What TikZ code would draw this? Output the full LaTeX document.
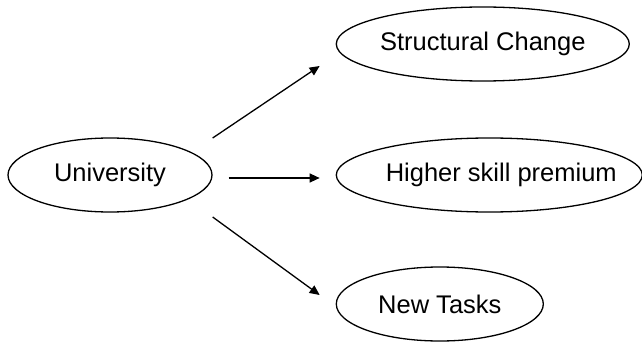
\documentclass[tikz,border=0pt]{standalone}
\usepackage{fontspec}
\setmainfont{Liberation Sans}
\usetikzlibrary{shapes.geometric, positioning, arrows.meta, calc}

\begin{document}
\begin{tikzpicture}[
        % Define styles for the diagram elements
        oval/.style={ellipse, draw, line width=1.3pt, inner sep=0pt, minimum height=74pt, font=\fontsize{25.5}{30}\selectfont},
        link/.style={line width=1.3pt, -{Triangle[length=10pt, width=9pt]}}
    ]
        \useasboundingbox (0,0) rectangle (642pt,-342pt);

        % --------------------------------------------------------
        % Source
        % --------------------------------------------------------
        \node[oval, minimum width=204pt] (uni) at (110pt,-175pt) {University};

        % --------------------------------------------------------
        % Outcomes
        % --------------------------------------------------------
        \node[oval, minimum width=306pt, right=123pt of uni,
              label={[font=\fontsize{25.5}{30}\selectfont, xshift=12pt]center:Higher skill premium}] (skill) {};
        \node[oval, minimum width=293pt, above=131pt of skill.west, anchor=west] (struct) {Structural Change};
        \node[oval, minimum width=207pt, below=129pt of skill.west, anchor=west] (tasks) {New Tasks};

        % Arrows
        \draw[link] ($(uni.east)+(0,37pt)$) -- ($(struct.west)+(-16pt,-22pt)$);
        \draw[link] ($(uni.east)+(16pt,-3pt)$) -- ($(skill.west)+(-16pt,-3pt)$);
        \draw[link] ($(uni.east)+(0,-42pt)$) -- ($(tasks.west)+(-16pt,9pt)$);

    \end{tikzpicture}
\end{document}
